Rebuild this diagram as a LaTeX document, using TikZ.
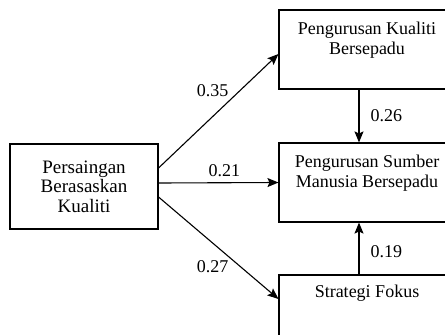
\documentclass[tikz,border=0pt]{standalone}
\usepackage{fontspec}
\setmainfont{Liberation Serif}
\usetikzlibrary{arrows.meta}

\begin{document}
\begin{tikzpicture}[x=1pt,y=-1pt,line width=1.1pt]
	\tikzstyle{every node}=[font=\fontsize{18}{20}\selectfont,align=center];
	\tikzstyle{box}=[draw,rectangle,inner sep=0pt];
	\tikzstyle{arr}=[-{Stealth[length=11pt,width=9pt,inset=2pt]}];
	\tikzstyle{num}=[inner sep=0pt];
	\clip (0,0) rectangle (445,335);

	\node at (84,186.5) (pba) [box,minimum width=148,minimum height=85,font=\fontsize{19}{19.5}\selectfont] {Persaingan\\Berasaskan\\Kualiti};
	\node at (367,49.5) (pkb) [box,minimum width=176,minimum height=79,
		label={[anchor=north,inner sep=0pt,yshift=-12pt]north:Pengurusan Kualiti\\Bersepadu}] {};
	\node at (367,182.5) (psm) [box,minimum width=176,minimum height=79,
		label={[anchor=north,inner sep=0pt,yshift=-12pt]north:Pengurusan Sumber\\Manusia Bersepadu}] {};
	\node at (367,315) (sf) [box,minimum width=176,minimum height=80,
		label={[anchor=north,inner sep=0pt,yshift=-10pt]north:Strategi Fokus}] {};

	\draw[arr] ([yshift=18.5pt]pba.east) to node[num,pos=0.45,above=19pt] {0.35} ([yshift=-4.5pt]pkb.west);
	\draw[arr] ([yshift=3.5pt]pba.east) to node[num,pos=0.55,above=5pt] {0.21} (psm.west);
	\draw[arr] ([yshift=-10.5pt]pba.east) to node[num,pos=0.45,below=17pt] {0.27} ([yshift=16pt]sf.west);
	\draw[arr] ([xshift=-8pt]pkb.south) to node[num,pos=0.5,right=11pt] {0.26} ([xshift=-8pt]psm.north);
	\draw[arr] ([xshift=-8pt]sf.north) to node[num,pos=0.43,right=11pt] {0.19} ([xshift=-8pt]psm.south);
\end{tikzpicture}
\end{document}
